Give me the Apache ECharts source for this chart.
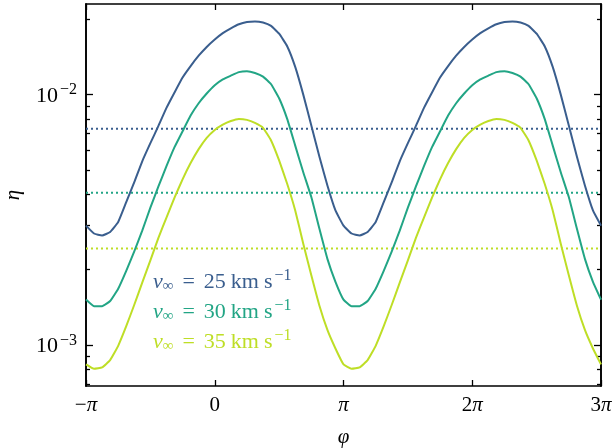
<!DOCTYPE html>
<html>
<head>
<meta charset="utf-8">
<script src="https://cdn.jsdelivr.net/npm/echarts@6/dist/echarts.min.js"></script>
<style>
  html, body { margin: 0; padding: 0; background: #fff; }
  #chart { width: 613px; height: 448px; }
</style>
</head>
<body>
<div id="chart"></div>
<script>
// Azimuth samples, in units of pi (step pi/16, from -pi to 3pi)
const phiOverPi = [
    -1, -0.9375, -0.875, -0.8125, -0.75, -0.6875, -0.625, -0.5625,
    -0.5, -0.4375, -0.375, -0.3125, -0.25, -0.1875, -0.125, -0.0625,
    0, 0.0625, 0.125, 0.1875, 0.25, 0.3125, 0.375, 0.4375,
    0.5, 0.5625, 0.625, 0.6875, 0.75, 0.8125, 0.875, 0.9375,
    1, 1.0625, 1.125, 1.1875, 1.25, 1.3125, 1.375, 1.4375,
    1.5, 1.5625, 1.625, 1.6875, 1.75, 1.8125, 1.875, 1.9375,
    2, 2.0625, 2.125, 2.1875, 2.25, 2.3125, 2.375, 2.4375,
    2.5, 2.5625, 2.625, 2.6875, 2.75, 2.8125, 2.875, 2.9375, 3
];

// Efficiency for each wind speed
const etaV25 = [
    3.00e-3, 2.79e-3, 2.74e-3, 2.83e-3, 3.10e-3, 3.72e-3, 4.47e-3, 5.43e-3,
    6.40e-3, 7.50e-3, 8.85e-3, 1.02e-2, 1.17e-2, 1.30e-2, 1.43e-2, 1.55e-2,
    1.66e-2, 1.76e-2, 1.84e-2, 1.91e-2, 1.95e-2, 1.96e-2, 1.94e-2, 1.88e-2,
    1.75e-2, 1.56e-2, 1.29e-2, 1.00e-2, 7.53e-3, 5.66e-3, 4.34e-3, 3.45e-3,
    3.00e-3, 2.79e-3, 2.74e-3, 2.83e-3, 3.10e-3, 3.72e-3, 4.47e-3, 5.43e-3,
    6.40e-3, 7.50e-3, 8.85e-3, 1.02e-2, 1.17e-2, 1.30e-2, 1.43e-2, 1.55e-2,
    1.66e-2, 1.76e-2, 1.84e-2, 1.91e-2, 1.95e-2, 1.96e-2, 1.94e-2, 1.88e-2,
    1.75e-2, 1.56e-2, 1.29e-2, 1.00e-2, 7.53e-3, 5.66e-3, 4.34e-3, 3.45e-3,
    3.00e-3
];
const etaV30 = [
    1.52e-3, 1.43e-3, 1.43e-3, 1.50e-3, 1.68e-3, 1.98e-3, 2.37e-3, 2.87e-3,
    3.54e-3, 4.30e-3, 5.18e-3, 6.17e-3, 7.14e-3, 8.25e-3, 9.24e-3, 1.01e-2,
    1.09e-2, 1.15e-2, 1.19e-2, 1.23e-2, 1.24e-2, 1.22e-2, 1.18e-2, 1.10e-2,
    9.67e-3, 8.00e-3, 6.26e-3, 4.90e-3, 3.90e-3, 2.92e-3, 2.21e-3, 1.79e-3,
    1.52e-3, 1.43e-3, 1.43e-3, 1.50e-3, 1.68e-3, 1.98e-3, 2.37e-3, 2.87e-3,
    3.54e-3, 4.30e-3, 5.18e-3, 6.17e-3, 7.14e-3, 8.25e-3, 9.24e-3, 1.01e-2,
    1.09e-2, 1.15e-2, 1.19e-2, 1.23e-2, 1.24e-2, 1.22e-2, 1.18e-2, 1.10e-2,
    9.67e-3, 8.00e-3, 6.26e-3, 4.90e-3, 3.90e-3, 2.92e-3, 2.21e-3, 1.79e-3,
    1.52e-3
];
const etaV35 = [
    8.38e-4, 8.05e-4, 8.15e-4, 8.72e-4, 9.94e-4, 1.19e-3, 1.45e-3, 1.78e-3,
    2.18e-3, 2.68e-3, 3.23e-3, 3.88e-3, 4.59e-3, 5.33e-3, 6.06e-3, 6.72e-3,
    7.23e-3, 7.59e-3, 7.85e-3, 8.00e-3, 7.93e-3, 7.71e-3, 7.37e-3, 6.56e-3,
    5.46e-3, 4.41e-3, 3.45e-3, 2.54e-3, 1.90e-3, 1.44e-3, 1.15e-3, 9.70e-4,
    8.38e-4, 8.05e-4, 8.15e-4, 8.72e-4, 9.94e-4, 1.19e-3, 1.45e-3, 1.78e-3,
    2.18e-3, 2.68e-3, 3.23e-3, 3.88e-3, 4.59e-3, 5.33e-3, 6.06e-3, 6.72e-3,
    7.23e-3, 7.59e-3, 7.85e-3, 8.00e-3, 7.93e-3, 7.71e-3, 7.37e-3, 6.56e-3,
    5.46e-3, 4.41e-3, 3.45e-3, 2.54e-3, 1.90e-3, 1.44e-3, 1.15e-3, 9.70e-4,
    8.38e-4
];

// Orbit-averaged levels (dotted lines)
const etaMean = [7.30e-3, 4.06e-3, 2.43e-3];

const speeds = [25, 30, 35];
const colors = ['#3a5e8e', '#22a585', '#bede26'];

// Axis ticks
const xTicks = [-1, 0, 1, 2, 3];
const xTickLabels = ['−{p|π}', '0', '{p|π}', '2{p|π}', '3{p|π}'];
const yMajorTicks = [1e-3, 1e-2];
const yMinorTicks = [7e-4, 8e-4, 9e-4, 2e-3, 3e-3, 4e-3, 5e-3, 6e-3, 7e-3, 8e-3, 9e-3, 2e-2];
const xRange = [-1, 3];
const yRange = [6.87e-4, 2.30e-2];

const FONT = 'Liberation Serif';

// Build y axis (major or minor ticks, left or right)
function makeYAxis(position, ticks, length, withLabels) {
    return {
        type: 'log',
        position: position,
        min: yRange[0],
        max: yRange[1],
        axisLine: { show: true, onZero: false, lineStyle: { color: '#000', width: 1.6 } },
        axisTick: {
            show: true, inside: true, length: length, customValues: ticks,
            lineStyle: { color: '#000', width: 1.3 }
        },
        axisLabel: withLabels ? {
            show: true,
            customValues: ticks,
            margin: 9,
            color: '#000',
            fontFamily: FONT,
            formatter: v => '{b|10}{e|−' + Math.round(-Math.log10(v)) + '}',
            rich: {
                b: { fontSize: 22, fontFamily: FONT, color: '#000', padding: [3, 0, 0, 0] },
                e: { fontSize: 16, fontFamily: FONT, color: '#000', padding: [0, 0, 9, 2] }
            }
        } : { show: false },
        splitLine: { show: false },
        minorTick: { show: false },
        name: withLabels ? 'η' : '',
        nameLocation: 'middle',
        nameGap: 62,
        nameRotate: 90,
        nameTextStyle: { fontFamily: FONT, fontStyle: 'italic', fontSize: 21, color: '#000' }
    };
}

// Build x axis (bottom with labels, top without)
function makeXAxis(position, withLabels) {
    return {
        type: 'value',
        position: position,
        min: xRange[0],
        max: xRange[1],
        interval: 1,
        axisLine: { show: true, onZero: false, lineStyle: { color: '#000', width: 1.6 } },
        axisTick: { show: true, inside: true, length: 6, lineStyle: { color: '#000', width: 1.3 } },
        axisLabel: withLabels ? {
            show: true,
            margin: 9,
            color: '#000',
            fontFamily: FONT,
            fontSize: 21,
            showMinLabel: true,
            showMaxLabel: true,
            formatter: v => xTickLabels[xTicks.indexOf(Math.round(v))],
            rich: {
                p: { fontSize: 21, fontFamily: FONT, fontStyle: 'italic', color: '#000' }
            }
        } : { show: false },
        splitLine: { show: false },
        name: withLabels ? 'φ' : '',
        nameLocation: 'middle',
        nameGap: 41,
        nameTextStyle: { fontFamily: FONT, fontStyle: 'italic', fontSize: 21, color: '#000' }
    };
}

function initChart() {
    const chart = echarts.init(document.getElementById('chart'), null, { renderer: 'canvas' });
    const etas = [etaV25, etaV30, etaV35];
    const names = speeds.map(s => 'v' + s);

    const series = [];
    // Curves
    etas.forEach((eta, i) => {
        series.push({
            name: names[i],
            type: 'line',
            data: phiOverPi.map((p, j) => [p, eta[j]]),
            smooth: 0.12,
            showSymbol: false,
            symbol: 'none',
            lineStyle: { color: colors[i], width: 2, join: 'round' },
            itemStyle: { color: colors[i] },
            z: 3
        });
    });
    // Dotted mean levels
    etaMean.forEach((lvl, i) => {
        series.push({
            name: names[i] + '-mean',
            type: 'line',
            data: [[xRange[0], lvl], [xRange[1], lvl]],
            symbol: 'none',
            lineStyle: { color: colors[i], width: 2, type: [2, 3] },
            z: 2
        });
    });

    chart.setOption({
        backgroundColor: '#fff',
        animation: false,
        grid: { left: 86, right: 12, top: 4, bottom: 62, containLabel: false, outerBoundsMode: 'none' },
        xAxis: [makeXAxis('bottom', true), makeXAxis('top', false)],
        yAxis: [
            makeYAxis('left', yMajorTicks, 7, true),
            makeYAxis('left', yMinorTicks, 4, false),
            makeYAxis('right', yMajorTicks, 7, false),
            makeYAxis('right', yMinorTicks, 4, false)
        ],
        legend: {
            orient: 'vertical',
            left: 143,
            top: 263,
            icon: 'none',
            itemWidth: 0,
            itemHeight: 0,
            itemGap: 4,
            selectedMode: false,
            data: names.map((n, i) => ({ name: n, textStyle: { color: colors[i] } })),
            formatter: name => {
                const s = name.slice(1);
                return '{v|v}{sub|∞}{eq|=}{t|' + s + '}{t|km}{s|s}{sup|−1}';
            },
            textStyle: {
                fontFamily: FONT,
                fontSize: 22,
                rich: {
                    v: { fontSize: 22, fontFamily: FONT, fontStyle: 'italic' },
                    sub: { fontSize: 15, fontFamily: FONT, padding: [9, 0, 0, 0] },
                    eq: { fontSize: 22, fontFamily: FONT, padding: [0, 9, 0, 9] },
                    t: { fontSize: 22, fontFamily: FONT, padding: [0, 5, 0, 0] },
                    s: { fontSize: 22, fontFamily: FONT },
                    sup: { fontSize: 16, fontFamily: FONT, padding: [0, 0, 12, 2] }
                }
            }
        },
        series: series
    });
}

document.addEventListener('DOMContentLoaded', initChart);
</script>
</body>
</html>
